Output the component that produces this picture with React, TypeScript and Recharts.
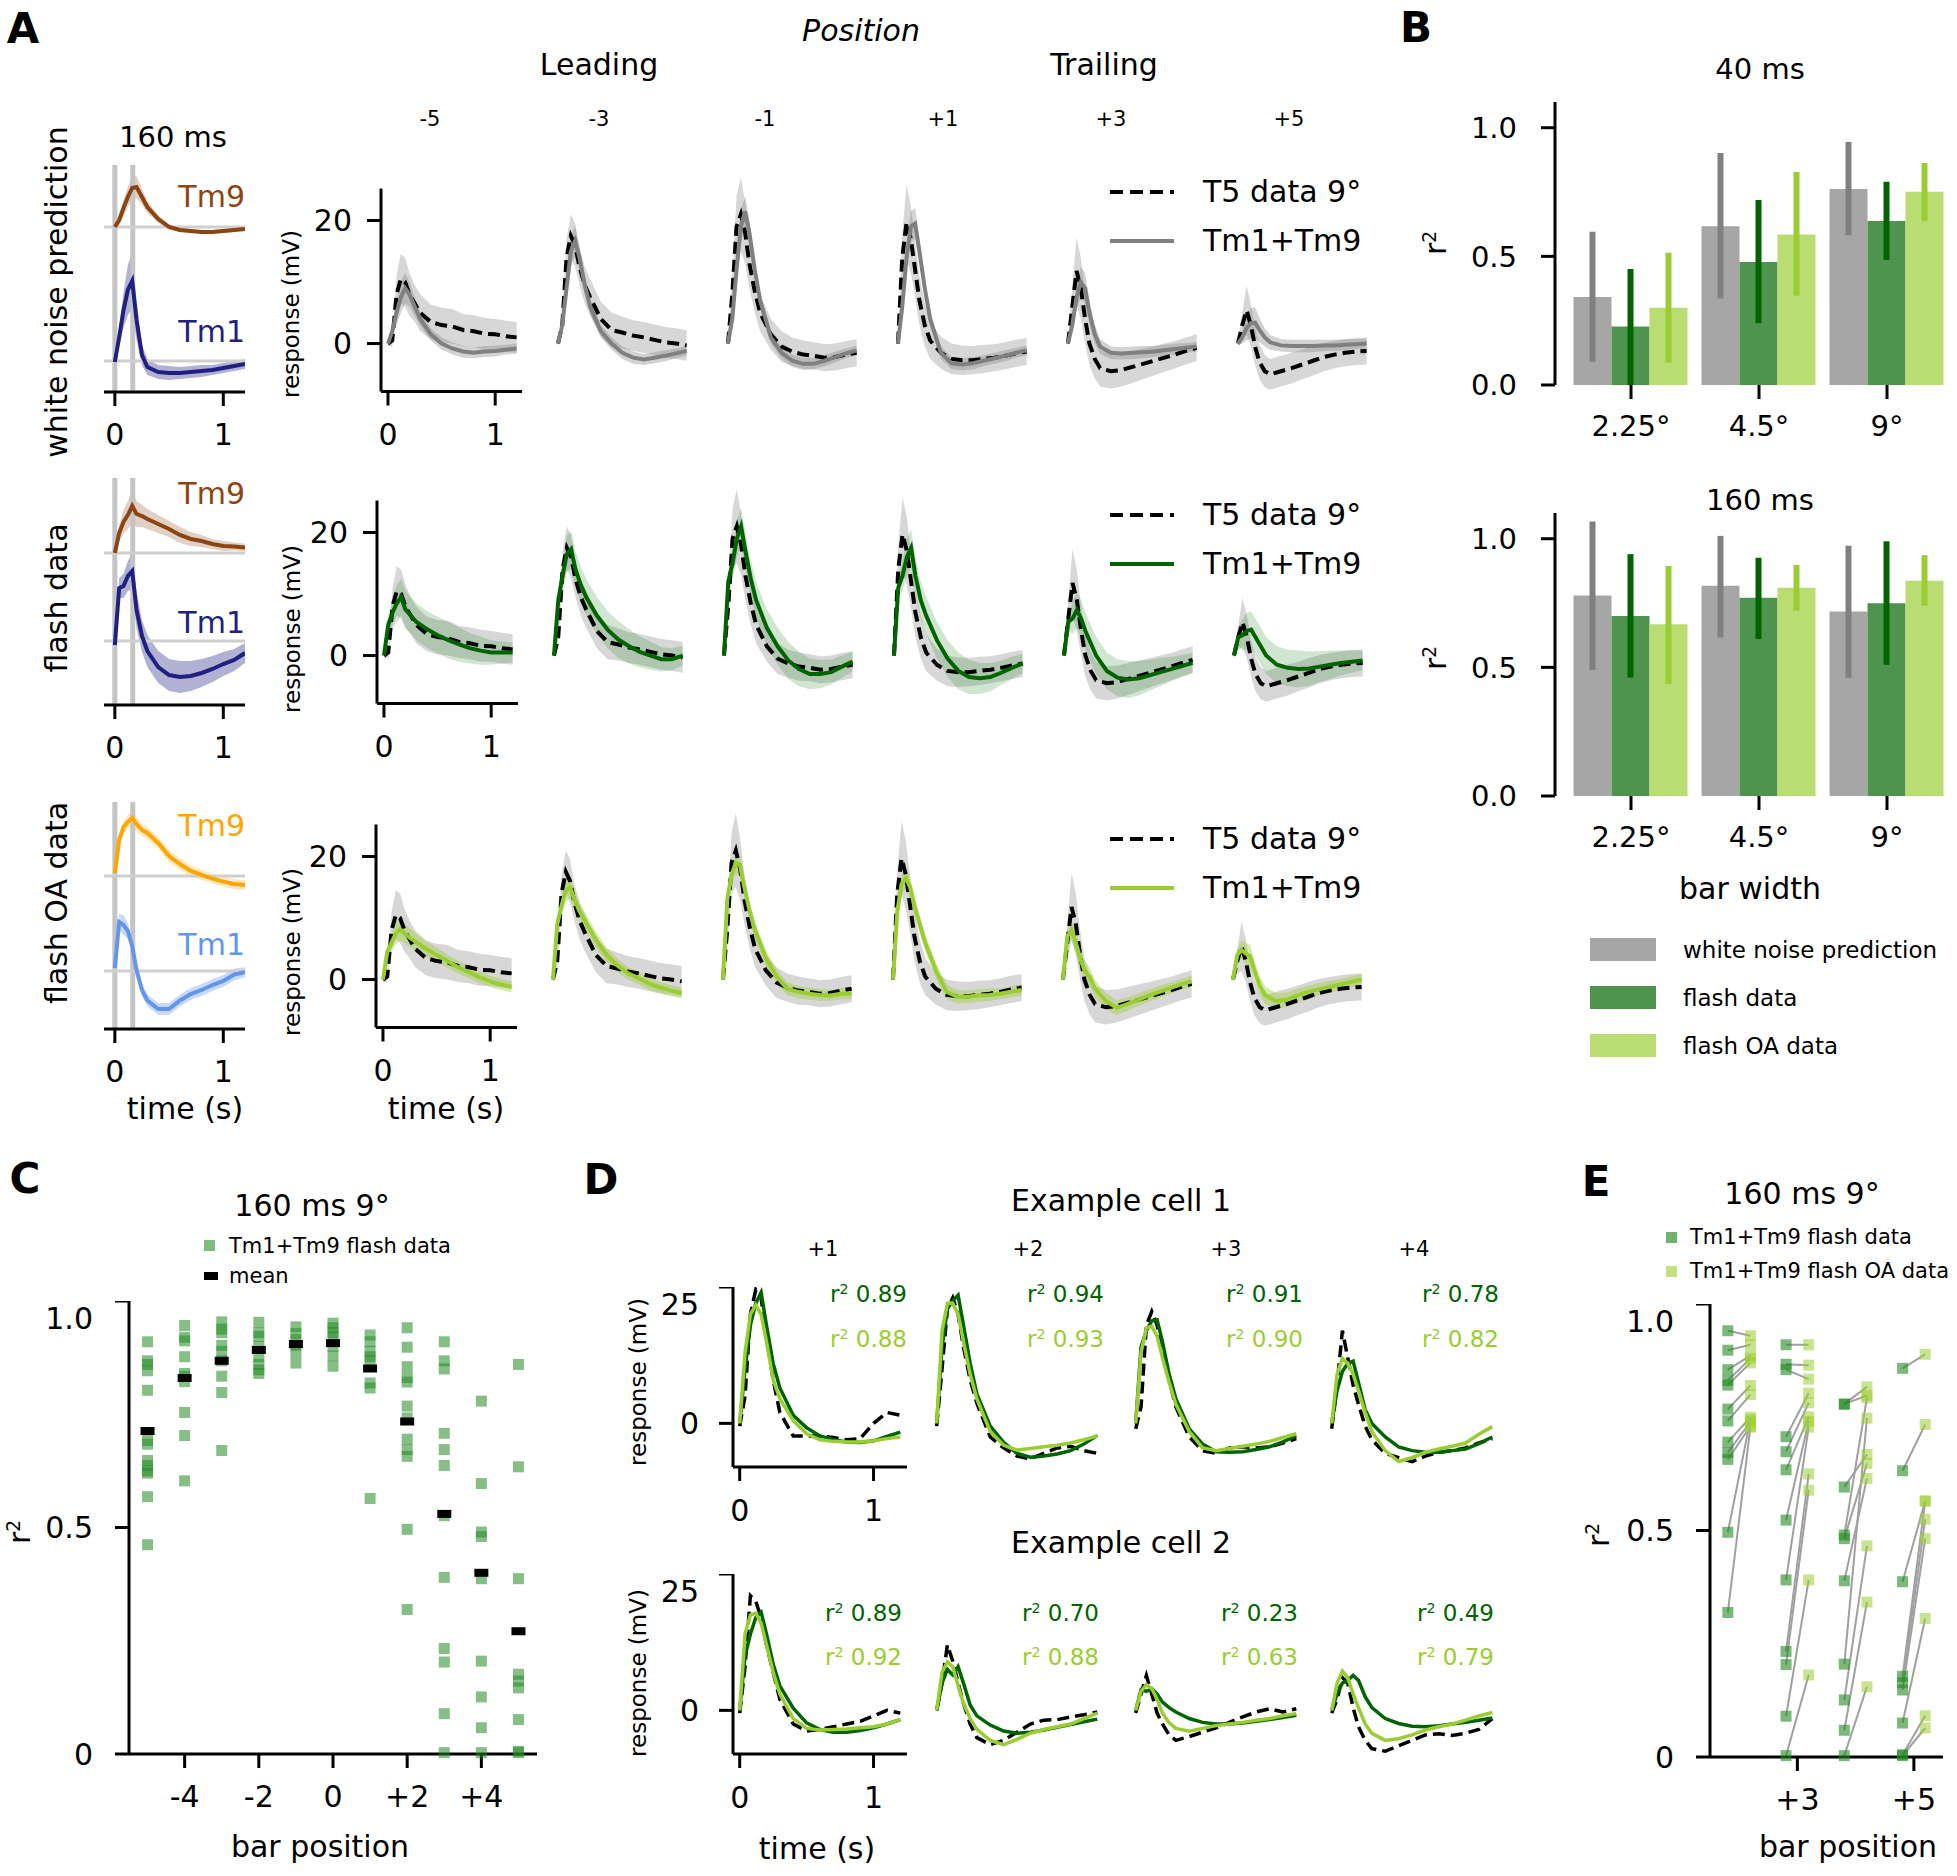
import React from "react";
import {
  ComposedChart,
  Line,
  Area,
  XAxis,
  YAxis,
  ReferenceLine,
  BarChart,
  Bar,
  ErrorBar,
  ScatterChart,
  Scatter,
} from "recharts";

const FONT = "'DejaVu Sans', Verdana, sans-serif";

// sample times (s), shared by every trace
const TIME = [0, 0.04, 0.08, 0.12, 0.16, 0.2, 0.25, 0.3, 0.4, 0.5, 0.6, 0.7, 0.8, 0.9, 1.0, 1.1, 1.2];

// ---------- A: Tm9 / Tm1 filters (a.u., relative to own baseline) ----------
const tm9White = [0, 7, 19, 30, 39, 40, 30, 20, 8, 0, -3, -4, -5, -5, -4, -3, -2];
const tm9WhiteSd = [2, 5, 8, 10, 12, 11, 8, 6, 4, 3, 2, 2, 2, 2, 2, 2, 2];
const tm1White = [-1, 24, 51, 71, 80, 41, 6, -6, -11, -12, -12, -11, -10, -9, -7, -5, -3];
const tm1WhiteSd = [3, 10, 18, 25, 28, 20, 10, 8, 7, 7, 6, 6, 6, 5, 5, 5, 5];
const tm9Flash = [0, 20, 31, 38, 47, 39, 37, 34, 29, 24, 18, 14, 12, 9, 7, 6.5, 5.6];
const tm9FlashSd = [2, 8, 12, 14, 17, 13, 11, 10, 9, 8, 8, 7, 6, 5, 5, 4, 4];
const tm1Flash = [-4, 53, 55, 65, 70, 31, 5, -10, -26, -34, -36, -35, -32, -28, -23, -19, -12];
const tm1FlashSd = [3, 10, 12, 15, 18, 18, 16, 16, 16, 16, 16, 15, 14, 13, 12, 11, 10];
const tm9Oa = [3, 36, 49, 54, 58, 52, 46, 43, 33, 20, 12, 5, 1, -2.6, -5.6, -8, -9];
const tm9OaSd = [2, 5, 6, 7, 8, 7, 6, 6, 6, 6, 6, 6, 5, 5, 5, 5, 5];
const tm1Oa = [3, 49, 46, 40, 25, 1, -19, -29.5, -38, -38, -29.5, -23, -19, -14, -10, -3.5, -1.3];
const tm1OaSd = [2, 8, 10, 8, 6, 6, 6, 6, 6, 6, 6, 6, 6, 6, 6, 6, 5];

// ---------- A: T5 data 9° (mV) per bar position ----------
const POSITIONS = ["-5", "-3", "-1", "+1", "+3", "+5"];
const t5M5 = [0, 0.5, 8, 10.5, 10, 8, 6.5, 5, 3.5, 3, 2.8, 2.2, 2, 1.6, 1.5, 1.2, 1.0];
const t5M3 = [0, 3, 14, 17.5, 16, 12.5, 9.5, 7.5, 4, 2.2, 1.8, 1.3, 1, 0.6, 0.2, 0, -0.3];
const t5M1 = [0, 8, 19, 21, 18, 13, 8.5, 5, 1.5, -0.5, -1.3, -1.8, -2, -2.3, -2.2, -1.8, -1.5];
const t5P1 = [0, 14, 19.7, 17, 12, 7, 3, 0.5, -1.5, -2.5, -2.7, -2.7, -2.5, -2.3, -2, -1.6, -1.3];
const t5P3 = [0, 6, 11.8, 9, 4, 0, -2.5, -4, -4.5, -4.3, -3.8, -3.3, -2.8, -2.3, -1.8, -1.2, -0.7];
const t5P5 = [0, 3, 5.4, 3, -0.5, -3, -4.5, -5, -4.5, -4, -3.4, -2.8, -2.2, -1.8, -1.5, -1.3, -1.2];
const t5SdM5 = [0.5, 1, 3, 4, 4, 3.5, 3, 3, 2.8, 2.8, 2.8, 2.6, 2.6, 2.6, 2.5, 2.5, 2.5];
const t5SdM3 = [0.5, 1.5, 3, 3.5, 3.5, 3, 3, 3, 2.8, 2.8, 2.6, 2.5, 2.5, 2.5, 2.5, 2.5, 2.5];
const t5SdM1 = [0.5, 3, 5, 6, 5, 4, 3.5, 3, 2.5, 2.5, 2.3, 2.3, 2.2, 2.2, 2.2, 2.2, 2.2];
const t5SdP1 = [0.5, 4, 6, 5.5, 4.5, 4, 3.5, 3, 2.6, 2.5, 2.4, 2.3, 2.3, 2.2, 2.2, 2.2, 2.2];
const t5SdP3 = [0.5, 3, 5.5, 5, 4, 3.5, 3.2, 3, 2.8, 2.7, 2.6, 2.5, 2.4, 2.3, 2.2, 2.2, 2.2];
const t5SdP5 = [0.5, 2, 4, 3.5, 3, 2.8, 2.6, 2.5, 2.5, 2.5, 2.4, 2.4, 2.3, 2.2, 2.2, 2.2, 2.2];

// ---------- A: Tm1+Tm9 model predictions (mV) ----------
const whiteM5 = [0, 2, 5, 7.5, 9, 8, 6, 4, 1.5, 0, -0.8, -1.3, -1.5, -1.3, -1.2, -1.0, -0.8];
const whiteM3 = [0, 3, 9, 15, 16.7, 14, 9.5, 6, 2, 0, -1.5, -2.3, -2.6, -2.3, -2, -1.6, -1.2];
const whiteM1 = [0, 4, 12, 19, 21.5, 18, 12, 7, 1, -1.5, -2.8, -3.3, -3.3, -2.8, -2.2, -1.6, -1.1];
const whiteP1 = [0, 6, 14, 19, 19.5, 15, 9, 4, -1.5, -3.2, -3.4, -3.2, -2.8, -2.4, -2, -1.5, -1.1];
const whiteP3 = [0, 3, 7.5, 10, 9, 5, 1.5, -0.5, -1.5, -1.6, -1.5, -1.4, -1.3, -1.1, -0.9, -0.7, -0.5];
const whiteP5 = [0, 1, 2.5, 3.3, 3.4, 2.2, 1, 0.2, -0.3, -0.4, -0.4, -0.4, -0.3, -0.3, -0.2, -0.1, 0];
const flashM5 = [0, 5, 7, 8.5, 9.5, 7.5, 6.5, 5.5, 4.3, 3.3, 2.5, 1.8, 1.2, 0.8, 0.5, 0.5, 0.5];
const flashM3 = [0, 9, 13, 16.5, 17.3, 14, 11.5, 9.5, 6.5, 4.2, 2.6, 1.5, 0.6, 0, -0.6, -0.6, 0];
const flashM1 = [0, 12, 15, 19, 21, 17, 12.5, 9, 4.5, 1.5, -0.8, -2.2, -3, -3, -2.7, -1.8, -1];
const flashP1 = [0, 11, 13, 16, 17.5, 13, 9, 6.5, 2.5, -0.5, -2.5, -3.5, -3.7, -3.5, -2.8, -2, -1.3];
const flashP3 = [0, 5.5, 6, 7.4, 6, 4, 2, 0, -2.5, -3.6, -3.9, -3.7, -3.2, -2.7, -2.2, -1.7, -1.2];
const flashP5 = [0, 3, 3.3, 4, 4.2, 3, 1.5, 0, -1.5, -2, -2.2, -2.1, -1.8, -1.5, -1.2, -1, -0.8];
const oaM5 = [0, 4.5, 6, 7.5, 8.2, 7.5, 6.8, 6.2, 5, 4, 3, 2, 1.2, 0.4, -0.3, -0.8, -1.2];
const oaM3 = [0, 9, 12, 14.5, 15, 13, 11, 9.5, 6.5, 4, 2.3, 1, 0.2, -0.7, -1.3, -1.8, -2.2];
const oaM1 = [0, 13, 17, 19, 18.5, 15, 11, 8, 3.5, 0.5, -1.5, -2, -2.3, -2.5, -2.6, -2.3, -2.3];
const oaP1 = [0, 11, 15.5, 16.5, 15, 12, 9, 6, 1.5, -2, -2.8, -2.8, -2.6, -2.5, -2.3, -2, -1.7];
const oaP3 = [0, 7, 8, 6, 3.5, 1.5, 0.4, -1.5, -3.5, -4.6, -4, -3.3, -2.6, -2, -1.4, -0.8, -0.3];
const oaP5 = [0, 4, 4.8, 4.2, 3.8, 1.5, -1, -2.5, -3.5, -3.3, -2.6, -2, -1.6, -1.2, -0.8, -0.4, 0];
const sdWhite = [0.3, 1, 2, 2.5, 2.5, 2, 1.5, 1.2, 1, 1, 1, 1, 0.9, 0.9, 0.9, 0.8, 0.8];
const sdFlash = [0.3, 1.5, 2.5, 3, 3, 3, 3, 3, 3, 3, 3, 2.8, 2.5, 2.3, 2, 1.8, 1.6];
const sdOa = [0.3, 1, 1.5, 1.8, 1.8, 1.6, 1.5, 1.4, 1.3, 1.2, 1.1, 1, 1, 1, 0.9, 0.9, 0.9];

// ---------- B: r² per bar width ----------
const WIDTHS = ["2.25°", "4.5°", "9°"];
const b40White = [0.342, 0.617, 0.762];
const b40WhiteLo = [0.09, 0.336, 0.582];
const b40WhiteHi = [0.596, 0.902, 0.945];
const b40Flash = [0.227, 0.478, 0.637];
const b40FlashLo = [0.0, 0.24, 0.486];
const b40FlashHi = [0.451, 0.719, 0.79];
const b40Oa = [0.3, 0.585, 0.751];
const b40OaLo = [0.087, 0.347, 0.637];
const b40OaHi = [0.514, 0.828, 0.863];
const b160White = [0.779, 0.817, 0.717];
const b160WhiteLo = [0.49, 0.616, 0.46];
const b160WhiteHi = [1.067, 1.011, 0.973];
const b160Flash = [0.7, 0.771, 0.749];
const b160FlashLo = [0.46, 0.61, 0.51];
const b160FlashHi = [0.94, 0.926, 0.99];
const b160Oa = [0.668, 0.809, 0.837];
const b160OaLo = [0.436, 0.72, 0.74];
const b160OaHi = [0.894, 0.898, 0.936];

// ---------- C: r² of Tm1+Tm9 flash data per bar position ----------
const C_POS = [-5, -4, -3, -2, -1, 0, 1, 2, 3, 4, 5];
const cM5 = [0.91, 0.868, 0.86, 0.846, 0.803, 0.692, 0.684, 0.648, 0.637, 0.625, 0.62, 0.568, 0.462];
const cM4 = [0.946, 0.92, 0.912, 0.877, 0.84, 0.834, 0.822, 0.754, 0.703, 0.603];
const cM3 = [0.954, 0.938, 0.93, 0.902, 0.889, 0.868, 0.834, 0.798, 0.67];
const cM2 = [0.953, 0.93, 0.922, 0.9, 0.877, 0.86, 0.848, 0.84];
const cM1 = [0.943, 0.928, 0.915, 0.902, 0.887, 0.863];
const c0 = [0.951, 0.941, 0.93, 0.92, 0.9, 0.879, 0.856];
const cP1 = [0.925, 0.91, 0.889, 0.877, 0.868, 0.819, 0.808, 0.564];
const cP2 = [0.941, 0.898, 0.855, 0.831, 0.821, 0.768, 0.742, 0.695, 0.672, 0.657, 0.496, 0.319];
const cP3 = [0.91, 0.868, 0.85, 0.708, 0.672, 0.637, 0.526, 0.39, 0.233, 0.203, 0.089, 0.003];
const cP4 = [0.779, 0.597, 0.49, 0.48, 0.387, 0.205, 0.126, 0.058, 0.003];
const cP5 = [0.86, 0.634, 0.387, 0.176, 0.161, 0.146, 0.076, 0.006, 0.003];
const cMean = [0.713, 0.83, 0.868, 0.892, 0.905, 0.907, 0.851, 0.734, 0.53, 0.4, 0.271];

// ---------- D: example cells (mV) ----------
const D_POS = ["+1", "+2", "+3", "+4"];
const c1T5P1 = [-0.5, 5, 20, 24.5, 23, 16, 8, 2, -2.3, -2.3, -2.3, -2.6, -3, -2.8, 0, 2, 1.5];
const c1T5P2 = [-0.5, 10, 21, 23, 20, 14, 8, 3.7, -2.5, -4.5, -6, -6.5, -5.5, -4.5, -4.2, -5, -5.5];
const c1T5P3 = [-1, 3, 18, 20.5, 18, 13, 8, 3, -2.5, -5, -5.5, -4.5, -4.3, -4.5, -4.3, -3.6, -2.8];
const c1T5P4 = [-1, 7, 17, 12, 7, 3.5, -0.5, -3, -5.5, -6.3, -7, -6, -5.3, -5, -4.5, -3.6, -2.8];
const c1FlP1 = [0, 10, 18, 22, 24, 18, 11, 6.5, 1.5, -0.8, -2.3, -3, -3.4, -3.5, -3.2, -2.4, -1.6];
const c1FlP2 = [0, 14, 21, 22.5, 23.5, 18, 11, 5.4, -0.5, -3.5, -5.5, -6.2, -6, -5.6, -5, -3.8, -2.2];
const c1FlP3 = [0, 14, 17, 18.8, 19, 15, 9, 4.5, -1, -3.8, -5.2, -5.3, -5.2, -4.8, -4.3, -3.4, -2.3];
const c1FlP4 = [0, 6, 9.5, 11, 11.4, 7.5, 2.5, 0, -2.5, -4.3, -5, -5.3, -5.3, -5, -4.7, -3.7, -2.5];
const c1OaP1 = [0, 13, 20, 21.7, 20, 15, 8, 4.5, 0.5, -1.9, -3, -3.3, -3.4, -3.4, -3.2, -2.8, -2.5];
const c1OaP2 = [0, 17, 22, 22, 20, 15, 9, 4.5, -1.5, -4, -4.9, -4.6, -4.3, -4, -3.6, -3, -2.3];
const c1OaP3 = [0, 13, 17.5, 17.8, 16, 12, 7.5, 3.5, -1.5, -4.5, -5, -4.6, -4.2, -3.8, -3.3, -2.6, -1.9];
const c1OaP4 = [0, 9, 11.9, 11, 9, 6, 2, -1.5, -5, -7, -6.3, -5.3, -4.7, -4.2, -3.6, -2, -0.6];
const c2T5P1 = [-0.5, 8, 21, 20, 17, 12, 7, 2, -2.5, -3.8, -3.5, -3, -2.5, -2, -1, 0, -0.5];
const c2T5P2 = [0, 5, 12, 9, 5, 1.3, -2.5, -5, -6.3, -5.5, -4, -2.5, -1.8, -1.7, -1.2, -0.8, -0.3];
const c2T5P3 = [-0.5, 3, 6.4, 3, -0.5, -2.5, -4.5, -5.5, -4.8, -4, -3.2, -2.2, -1.2, -0.3, 0.3, -0.3, 0.3];
const c2T5P4 = [-0.5, 2, 6, 5, 0.5, -3, -5.5, -7, -7.5, -6.5, -5.5, -4.5, -4.3, -4.6, -4.2, -3.5, -1.5];
const c2FlP1 = [0, 10, 14, 17, 18, 14, 8.5, 4.5, 0.4, -2.3, -3.5, -4, -4, -3.7, -3.2, -2.5, -1.7];
const c2FlP2 = [0, 5, 7.5, 6.5, 8, 5, 1, -1, -2.7, -3.8, -4.2, -4, -3.6, -3.1, -2.6, -2.1, -1.6];
const c2FlP3 = [0, 3.8, 3.5, 4, 3, 1.5, 0.5, -0.3, -1.5, -2.2, -2.5, -2.5, -2.3, -2, -1.7, -1.3, -0.9];
const c2FlP4 = [0, 3, 5, 5.5, 6.4, 5.5, 2.5, 0.5, -1.5, -2.4, -2.9, -3, -2.8, -2.5, -2.2, -1.8, -1.4];
const c2OaP1 = [0, 14, 17.5, 17.8, 16, 12, 7, 3, -1.5, -3.3, -3.6, -3.5, -3.4, -3.2, -3, -2.5, -1.7];
const c2OaP2 = [0, 7, 8.9, 8, 4.5, 1.3, -1.5, -3.5, -5.5, -6.3, -5.3, -4.2, -3.5, -3, -2.5, -1.5, -0.5];
const c2OaP3 = [0, 3.5, 4.7, 4, 2, -0.5, -2.3, -3.3, -3.8, -3.3, -2.8, -2.5, -2.2, -1.8, -1.5, -1, -0.6];
const c2OaP4 = [0, 5, 7.2, 6, 3, 0.5, -2.5, -4.2, -5.5, -5.2, -4.5, -3.6, -3, -2.5, -1.8, -1, -0.4];
const c1Fit = ["0.89", "0.94", "0.91", "0.78"];
const c1FitOa = ["0.88", "0.93", "0.90", "0.82"];
const c2Fit = ["0.89", "0.70", "0.23", "0.49"];
const c2FitOa = ["0.92", "0.88", "0.63", "0.79"];

// ---------- E: paired r² (flash vs flash OA) ----------
const E_POS = [2, 3, 4, 5];
const eP2Flash = [0.941, 0.898, 0.855, 0.831, 0.821, 0.768, 0.742, 0.695, 0.672, 0.657, 0.496, 0.319];
const eP2Oa = [0.93, 0.91, 0.886, 0.88, 0.87, 0.82, 0.8, 0.75, 0.74, 0.73, 0.745, 0.728];
const eP3Flash = [0.91, 0.867, 0.855, 0.707, 0.674, 0.634, 0.523, 0.391, 0.233, 0.204, 0.09, 0.003];
const eP3Oa = [0.91, 0.865, 0.834, 0.803, 0.782, 0.751, 0.741, 0.728, 0.625, 0.589, 0.391, 0.181];
const eP4Flash = [0.779, 0.779, 0.596, 0.49, 0.482, 0.389, 0.205, 0.126, 0.059, 0.003];
const eP4Oa = [0.817, 0.798, 0.668, 0.793, 0.648, 0.615, 0.748, 0.466, 0.342, 0.155];
const eP5Flash = [0.858, 0.632, 0.387, 0.178, 0.164, 0.148, 0.075, 0.005, 0.003];
const eP5Oa = [0.889, 0.734, 0.565, 0.565, 0.525, 0.482, 0.306, 0.091, 0.064];

// ---------- styling ----------
const GREY_BAR = "#a6a6a6";
const GREEN_BAR = "#4e944e";
const LIGHT_BAR = "#b9dc73";
const DARK_GREEN = "#006400";
const YELLOW_GREEN = "#9acd32";
const tickFont = { fill: "#000", fontSize: 30, fontFamily: FONT };
const spine = { stroke: "#000", strokeWidth: 3 };
const zero = { top: 0, right: 0, bottom: 0, left: 0 };

function Txt(props: any) {
  const { x, y, size = 30, anchor = "middle", rot = 0, color = "#000", bold, italic, children } = props;
  const tx = anchor === "middle" ? "-50%" : anchor === "end" ? "-100%" : "0%";
  return (
    <div
      style={{
        position: "absolute",
        left: x,
        top: y,
        transform: `translate(${tx}, -50%) rotate(${rot}deg)`,
        fontFamily: FONT,
        fontSize: size,
        lineHeight: 1,
        whiteSpace: "nowrap",
        color,
        fontWeight: bold ? 700 : 400,
        fontStyle: italic ? "italic" : "normal",
      }}
    >
      {children}
    </div>
  );
}

const R2 = () => (
  <span>
    r<span style={{ fontSize: "0.62em", verticalAlign: "0.55em" }}>2</span>
  </span>
);

// ---------- A: filter plot ----------
function FilterPlot(props: any) {
  const { axisY, tm9, tm9Sd, tm1, tm1Sd, off9, off1, c9, c1 } = props;
  const rows = TIME.map((t, i) => ({
    t,
    a: tm9[i] + off9,
    aBand: [tm9[i] - tm9Sd[i] + off9, tm9[i] + tm9Sd[i] + off9],
    b: tm1[i] + off1,
    bBand: [tm1[i] - tm1Sd[i] + off1, tm1[i] + tm1Sd[i] + off1],
  }));
  return (
    <div style={{ position: "absolute", left: 104, top: axisY - 240 }}>
      <ComposedChart width={141} height={310} data={rows} margin={zero}>
        <XAxis dataKey="t" type="number" domain={[-0.1, 1.2]} ticks={[0, 1]} height={70}
          tickSize={14} tickMargin={18} tick={tickFont} axisLine={spine} tickLine={spine} />
        <YAxis hide type="number" domain={[0, 240]} allowDataOverflow />
        <ReferenceLine segment={[{ x: 0, y: 0 }, { x: 0, y: 227 }]} stroke="#c4c4c4" strokeWidth={5} ifOverflow="visible" />
        <ReferenceLine segment={[{ x: 0.165, y: 0 }, { x: 0.165, y: 227 }]} stroke="#c4c4c4" strokeWidth={5} ifOverflow="visible" />
        <ReferenceLine segment={[{ x: -0.1, y: off9 }, { x: 1.2, y: off9 }]} stroke="#cfcfcf" strokeWidth={3} ifOverflow="visible" />
        <ReferenceLine segment={[{ x: -0.1, y: off1 }, { x: 1.2, y: off1 }]} stroke="#cfcfcf" strokeWidth={3} ifOverflow="visible" />
        <Area dataKey="aBand" stroke="none" fill={c9} fillOpacity={0.25} isAnimationActive={false} />
        <Line dataKey="a" stroke={c9} strokeWidth={4} dot={false} isAnimationActive={false} />
        <Area dataKey="bBand" stroke="none" fill={c1} fillOpacity={0.35} isAnimationActive={false} />
        <Line dataKey="b" stroke={c1} strokeWidth={4} dot={false} isAnimationActive={false} />
      </ComposedChart>
    </div>
  );
}

// ---------- A: response plot ----------
const A_YMIN = -7.8;
const A_YTOP = 30;
const A_PX = 203 / 33;
function RespPlot(props: any) {
  const { left, top, t5, t5Sd, model, modelSd, color, bandFill, bandOpacity, axes } = props;
  const rows = TIME.map((t, i) => ({
    t,
    d: t5[i],
    dBand: [t5[i] - t5Sd[i], t5[i] + t5Sd[i]],
    m: model[i],
    mBand: [model[i] - modelSd[i], model[i] + modelSd[i]],
  }));
  const plotH = (A_YTOP - A_YMIN) * A_PX;
  const extra = (A_YTOP - 25.2) * A_PX;
  const yW = axes ? 90 : 0;
  const xH = axes ? 70 : 0;
  return (
    <div style={{ position: "absolute", left: left - yW, top: top - extra }}>
      <ComposedChart width={141 + yW} height={plotH + xH} data={rows} margin={zero}>
        <XAxis dataKey="t" type="number" domain={[-0.065, 1.25]} ticks={[0, 1]} hide={!axes} height={xH}
          tickSize={14} tickMargin={18} tick={tickFont} axisLine={spine} tickLine={spine} />
        <YAxis type="number" domain={[A_YMIN, A_YTOP]} ticks={[0, 20]} hide={!axes} width={yW}
          tickSize={14} tickMargin={15} tick={tickFont} axisLine={false} tickLine={spine} allowDataOverflow />
        {axes && (
          <ReferenceLine segment={[{ x: -0.065, y: A_YMIN }, { x: -0.065, y: 25.2 }]} stroke="#000" strokeWidth={3} ifOverflow="visible" />
        )}
        <Area dataKey="dBand" stroke="none" fill="#d0d0d0" fillOpacity={0.85} isAnimationActive={false} />
        <Area dataKey="mBand" stroke="none" fill={bandFill} fillOpacity={bandOpacity} isAnimationActive={false} />
        <Line dataKey="d" stroke="#000" strokeWidth={4} strokeDasharray="12 6" dot={false} isAnimationActive={false} />
        <Line dataKey="m" stroke={color} strokeWidth={4} dot={false} isAnimationActive={false} />
      </ComposedChart>
    </div>
  );
}

// ---------- B: bar panel ----------
function BarPanel(props: any) {
  const { top, white, whiteLo, whiteHi, flash, flashLo, flashHi, oa, oaLo, oaHi } = props;
  const rows = WIDTHS.map((w, i) => ({
    w,
    wn: white[i],
    wnErr: [white[i] - whiteLo[i], whiteHi[i] - white[i]],
    fl: flash[i],
    flErr: [flash[i] - flashLo[i], flashHi[i] - flash[i]],
    oa: oa[i],
    oaErr: [oa[i] - oaLo[i], oaHi[i] - oa[i]],
  }));
  return (
    <div style={{ position: "absolute", left: 1555 - 90, top }}>
      <BarChart width={90 + 396} height={283 + 70} data={rows} margin={zero} barCategoryGap={6.5} barGap={0}>
        <XAxis dataKey="w" padding={{ left: 12, right: 0 }} height={70} axisLine={false}
          tickSize={14} tickMargin={16} tick={{ ...tickFont, fontSize: 29 }} tickLine={spine} />
        <YAxis type="number" domain={[0, 1.1]} ticks={[0, 0.5, 1]} width={90} allowDataOverflow
          tickFormatter={(v: number) => v.toFixed(1)} tickSize={14} tickMargin={24}
          tick={{ ...tickFont, fontSize: 29 }} axisLine={spine} tickLine={spine} />
        <Bar dataKey="wn" fill={GREY_BAR} isAnimationActive={false}>
          <ErrorBar dataKey="wnErr" width={0} stroke="#808080" strokeWidth={6} isAnimationActive={false} />
        </Bar>
        <Bar dataKey="fl" fill={GREEN_BAR} isAnimationActive={false}>
          <ErrorBar dataKey="flErr" width={0} stroke={DARK_GREEN} strokeWidth={6} isAnimationActive={false} />
        </Bar>
        <Bar dataKey="oa" fill={LIGHT_BAR} isAnimationActive={false}>
          <ErrorBar dataKey="oaErr" width={0} stroke={YELLOW_GREEN} strokeWidth={6} isAnimationActive={false} />
        </Bar>
      </BarChart>
    </div>
  );
}

// ---------- D: example cell plot ----------
function CellPlot(props: any) {
  const { left, top, t5, flash, oa, axes } = props;
  const rows = TIME.map((t, i) => ({ t, d: t5[i], f: flash[i], o: oa[i] }));
  const yW = axes ? 90 : 0;
  const xH = axes ? 70 : 0;
  return (
    <div style={{ position: "absolute", left: left - yW, top }}>
      <ComposedChart width={174 + yW} height={180 + xH} data={rows} margin={zero}>
        <XAxis dataKey="t" type="number" domain={[-0.05, 1.25]} ticks={[0, 1]} hide={!axes} height={xH}
          tickSize={14} tickMargin={19} tick={tickFont} axisLine={spine} tickLine={spine} />
        <YAxis type="number" domain={[-8, 25]} ticks={[0, 25]} hide={!axes} width={yW} allowDataOverflow
          tickSize={14} tickMargin={20} tick={tickFont} axisLine={spine} tickLine={spine} />
        <Line dataKey="d" stroke="#000" strokeWidth={3.5} strokeDasharray="12 6" dot={false} isAnimationActive={false} />
        <Line dataKey="f" stroke={DARK_GREEN} strokeWidth={3.5} dot={false} isAnimationActive={false} />
        <Line dataKey="o" stroke={YELLOW_GREEN} strokeWidth={3.5} dot={false} isAnimationActive={false} />
      </ComposedChart>
    </div>
  );
}

const square = (fill: string, op: number, s: number) => (p: any) => (
  <rect x={p.cx - s / 2} y={p.cy - s / 2} width={s} height={s} fill={fill} fillOpacity={op} />
);
const meanMark = (p: any) => <rect x={p.cx - 7} y={p.cy - 4} width={14} height={8} fill="#000" />;
const fmtPos = (v: number) => (v > 0 ? `+${v}` : `${v}`);
const fmtR = (v: number) => (v === 0 ? "0" : v.toFixed(1));

function LegendLine({ x, y, dashed, color }: any) {
  return (
    <svg style={{ position: "absolute", left: x, top: y - 6 }} width={64} height={12}>
      <line x1={0} y1={6} x2={64} y2={6} stroke={color} strokeWidth={4} strokeDasharray={dashed ? "13 7" : undefined} />
    </svg>
  );
}

export default function App() {
  const t5 = [t5M5, t5M3, t5M1, t5P1, t5P3, t5P5];
  const t5Sd = [t5SdM5, t5SdM3, t5SdM1, t5SdP1, t5SdP3, t5SdP5];
  const aRows = [
    { axisX: 381, top: 188.2, models: [whiteM5, whiteM3, whiteM1, whiteP1, whiteP3, whiteP5], sd: sdWhite, color: "#808080", band: "#808080", op: 0.35, legY: 192 },
    { axisX: 377, top: 500.7, models: [flashM5, flashM3, flashM1, flashP1, flashP3, flashP5], sd: sdFlash, color: DARK_GREEN, band: "#2e8b2e", op: 0.22, legY: 515 },
    { axisX: 376, top: 824.3, models: [oaM5, oaM3, oaM1, oaP1, oaP3, oaP5], sd: sdOa, color: YELLOW_GREEN, band: YELLOW_GREEN, op: 0.4, legY: 839 },
  ];
  const posLabelX = [430, 599, 765, 943, 1111, 1289];

  const cGroups = [cM5, cM4, cM3, cM2, cM1, c0, cP1, cP2, cP3, cP4, cP5];
  const cPts = cGroups.flatMap((g, i) => g.map((y) => ({ x: C_POS[i], y })));
  const cMeanPts = cMean.map((y, i) => ({ x: C_POS[i], y }));

  const eFlash = [eP2Flash, eP3Flash, eP4Flash, eP5Flash];
  const eOa = [eP2Oa, eP3Oa, eP4Oa, eP5Oa];
  const eFlashPts = eFlash.flatMap((g, i) => g.map((y) => ({ x: E_POS[i] - 0.194, y })));
  const eOaPts = eOa.flatMap((g, i) => g.map((y) => ({ x: E_POS[i] + 0.194, y })));
  const ePairs = eFlash.flatMap((g, i) => g.map((y, j) => ({ x: E_POS[i], a: y, b: eOa[i][j] })));

  const dLeft = [733, 930, 1129, 1325];
  const c1 = { t5: [c1T5P1, c1T5P2, c1T5P3, c1T5P4], fl: [c1FlP1, c1FlP2, c1FlP3, c1FlP4], oa: [c1OaP1, c1OaP2, c1OaP3, c1OaP4] };
  const c2 = { t5: [c2T5P1, c2T5P2, c2T5P3, c2T5P4], fl: [c2FlP1, c2FlP2, c2FlP3, c2FlP4], oa: [c2OaP1, c2OaP2, c2OaP3, c2OaP4] };

  return (
    <div style={{ position: "absolute", left: 0, top: 0, width: 1957, height: 1876, background: "#fff", overflow: "hidden", fontFamily: FONT }}>
      {/* ---------- A ---------- */}
      <Txt x={23} y={29} size={42} bold>A</Txt>
      <Txt x={861} y={31} italic>Position</Txt>
      <Txt x={599} y={65}>Leading</Txt>
      <Txt x={1104} y={65}>Trailing</Txt>
      {POSITIONS.map((p, i) => (
        <Txt key={p} x={posLabelX[i]} y={119} size={21}>{p}</Txt>
      ))}
      <Txt x={173} y={137} size={29}>160 ms</Txt>
      <Txt x={57} y={292} rot={-90}>white noise prediction</Txt>
      <Txt x={57} y={598} rot={-90}>flash data</Txt>
      <Txt x={57} y={903} rot={-90}>flash OA data</Txt>

      <FilterPlot axisY={392} tm9={tm9White} tm9Sd={tm9WhiteSd} tm1={tm1White} tm1Sd={tm1WhiteSd} off9={165} off1={31} c9="#8b4513" c1="#202080" />
      <FilterPlot axisY={705} tm9={tm9Flash} tm9Sd={tm9FlashSd} tm1={tm1Flash} tm1Sd={tm1FlashSd} off9={152} off1={64} c9="#8b4513" c1="#202080" />
      <FilterPlot axisY={1029} tm9={tm9Oa} tm9Sd={tm9OaSd} tm1={tm1Oa} tm1Sd={tm1OaSd} off9={153} off1={58} c9="#ffa500" c1="#6495ed" />
      <Txt x={245} y={197} anchor="end" color="#8b4513">Tm9</Txt>
      <Txt x={245} y={332} anchor="end" color="#202080">Tm1</Txt>
      <Txt x={245} y={494} anchor="end" color="#8b4513">Tm9</Txt>
      <Txt x={245} y={623} anchor="end" color="#202080">Tm1</Txt>
      <Txt x={245} y={826} anchor="end" color="#ffa500">Tm9</Txt>
      <Txt x={245} y={945} anchor="end" color="#6495ed">Tm1</Txt>
      <Txt x={185} y={1109}>time (s)</Txt>

      {aRows.map((r, ri) => (
        <React.Fragment key={ri}>
          {POSITIONS.map((p, k) => (
            <RespPlot key={p} left={r.axisX + 170 * k} top={r.top} t5={t5[k]} t5Sd={t5Sd[k]}
              model={r.models[k]} modelSd={r.sd} color={r.color} bandFill={r.band} bandOpacity={r.op} axes={k === 0} />
          ))}
          <LegendLine x={1110} y={r.legY} dashed color="#000" />
          <Txt x={1203} y={r.legY} anchor="start">T5 data 9°</Txt>
          <LegendLine x={1110} y={r.legY + 49} color={r.color} />
          <Txt x={1203} y={r.legY + 49} anchor="start">Tm1+Tm9</Txt>
        </React.Fragment>
      ))}
      <Txt x={291} y={314} size={23} rot={-90}>response (mV)</Txt>
      <Txt x={292} y={629} size={23} rot={-90}>response (mV)</Txt>
      <Txt x={292} y={952} size={23} rot={-90}>response (mV)</Txt>
      <Txt x={446} y={1109}>time (s)</Txt>

      {/* ---------- B ---------- */}
      <Txt x={1416} y={28} size={42} bold>B</Txt>
      <Txt x={1760} y={69} size={29}>40 ms</Txt>
      <Txt x={1760} y={500} size={29}>160 ms</Txt>
      <BarPanel top={102} white={b40White} whiteLo={b40WhiteLo} whiteHi={b40WhiteHi}
        flash={b40Flash} flashLo={b40FlashLo} flashHi={b40FlashHi} oa={b40Oa} oaLo={b40OaLo} oaHi={b40OaHi} />
      <BarPanel top={513} white={b160White} whiteLo={b160WhiteLo} whiteHi={b160WhiteHi}
        flash={b160Flash} flashLo={b160FlashLo} flashHi={b160FlashHi} oa={b160Oa} oaLo={b160OaLo} oaHi={b160OaHi} />
      <Txt x={1436} y={243} rot={-90}><R2 /></Txt>
      <Txt x={1436} y={658} rot={-90}><R2 /></Txt>
      <Txt x={1750} y={889}>bar width</Txt>
      {[
        { c: GREY_BAR, t: "white noise prediction", y: 950 },
        { c: GREEN_BAR, t: "flash data", y: 998 },
        { c: LIGHT_BAR, t: "flash OA data", y: 1046 },
      ].map((e) => (
        <React.Fragment key={e.t}>
          <div style={{ position: "absolute", left: 1590, top: e.y - 12, width: 66, height: 23, background: e.c }} />
          <Txt x={1683} y={e.y} size={23} anchor="start">{e.t}</Txt>
        </React.Fragment>
      ))}

      {/* ---------- C ---------- */}
      <Txt x={25} y={1179} size={42} bold>C</Txt>
      <Txt x={312} y={1206}>160 ms 9°</Txt>
      <div style={{ position: "absolute", left: 204, top: 1240, width: 11, height: 11, background: "#228b22", opacity: 0.58 }} />
      <Txt x={229} y={1246} size={21} anchor="start">Tm1+Tm9 flash data</Txt>
      <div style={{ position: "absolute", left: 204, top: 1272, width: 14, height: 8, background: "#000" }} />
      <Txt x={229} y={1276} size={21} anchor="start">mean</Txt>
      <div style={{ position: "absolute", left: 129.3 - 90, top: 1301 }}>
        <ScatterChart width={90 + 408} height={453 + 70} margin={zero}>
          <XAxis type="number" dataKey="x" domain={[-5.5, 5.5]} ticks={[-4, -2, 0, 2, 4]} tickFormatter={fmtPos}
            height={70} tickSize={14} tickMargin={18} tick={tickFont} axisLine={spine} tickLine={spine} />
          <YAxis type="number" dataKey="y" domain={[0, 1]} ticks={[0, 0.5, 1]} tickFormatter={fmtR} width={90}
            tickSize={14} tickMargin={22} tick={tickFont} axisLine={spine} tickLine={spine} />
          <Scatter data={cPts} shape={square("#228b22", 0.55, 11)} isAnimationActive={false} />
          <Scatter data={cMeanPts} shape={meanMark} isAnimationActive={false} />
        </ScatterChart>
      </div>
      <Txt x={20} y={1532} rot={-90}><R2 /></Txt>
      <Txt x={320} y={1847}>bar position</Txt>

      {/* ---------- D ---------- */}
      <Txt x={601} y={1180} size={42} bold>D</Txt>
      <Txt x={1121} y={1201}>Example cell 1</Txt>
      <Txt x={1121} y={1543}>Example cell 2</Txt>
      {D_POS.map((p, i) => (
        <Txt key={p} x={[823, 1028, 1226, 1414][i]} y={1249} size={21}>{p}</Txt>
      ))}
      {D_POS.map((p, i) => (
        <React.Fragment key={p}>
          <CellPlot left={dLeft[i]} top={1286.5} t5={c1.t5[i]} flash={c1.fl[i]} oa={c1.oa[i]} axes={i === 0} />
          <CellPlot left={dLeft[i]} top={1574} t5={c2.t5[i]} flash={c2.fl[i]} oa={c2.oa[i]} axes={i === 0} />
          <Txt x={dLeft[i] + 174} y={1294} size={23} anchor="end" color={DARK_GREEN}><R2 /> {c1Fit[i]}</Txt>
          <Txt x={dLeft[i] + 174} y={1339} size={23} anchor="end" color={YELLOW_GREEN}><R2 /> {c1FitOa[i]}</Txt>
          <Txt x={dLeft[i] + 169} y={1613} size={23} anchor="end" color={DARK_GREEN}><R2 /> {c2Fit[i]}</Txt>
          <Txt x={dLeft[i] + 169} y={1657} size={23} anchor="end" color={YELLOW_GREEN}><R2 /> {c2FitOa[i]}</Txt>
        </React.Fragment>
      ))}
      <Txt x={638} y={1382} size={23} rot={-90}>response (mV)</Txt>
      <Txt x={638} y={1673} size={23} rot={-90}>response (mV)</Txt>
      <Txt x={817} y={1849}>time (s)</Txt>

      {/* ---------- E ---------- */}
      <Txt x={1596} y={1182} size={42} bold>E</Txt>
      <Txt x={1802} y={1194}>160 ms 9°</Txt>
      <div style={{ position: "absolute", left: 1666, top: 1232, width: 11, height: 11, background: "#228b22", opacity: 0.65 }} />
      <Txt x={1690} y={1237} size={21} anchor="start">Tm1+Tm9 flash data</Txt>
      <div style={{ position: "absolute", left: 1666, top: 1266, width: 11, height: 11, background: YELLOW_GREEN, opacity: 0.6 }} />
      <Txt x={1690} y={1271} size={21} anchor="start">Tm1+Tm9 flash OA data</Txt>
      <div style={{ position: "absolute", left: 1710 - 90, top: 1304.3 }}>
        <ScatterChart width={90 + 233} height={453 + 70} margin={zero}>
          <XAxis type="number" dataKey="x" domain={[1.5, 5.5]} ticks={[3, 5]} tickFormatter={fmtPos}
            height={70} tickSize={14} tickMargin={18} tick={tickFont} axisLine={spine} tickLine={spine} />
          <YAxis type="number" dataKey="y" domain={[0, 1]} ticks={[0, 0.5, 1]} tickFormatter={fmtR} width={90}
            tickSize={14} tickMargin={22} tick={tickFont} axisLine={spine} tickLine={spine} />
          {ePairs.map((p, i) => (
            <ReferenceLine key={i} segment={[{ x: p.x - 0.194, y: p.a }, { x: p.x + 0.194, y: p.b }]}
              stroke="#a0a0a0" strokeWidth={2} ifOverflow="visible" />
          ))}
          <Scatter data={eFlashPts} shape={square("#228b22", 0.6, 11)} isAnimationActive={false} />
          <Scatter data={eOaPts} shape={square(YELLOW_GREEN, 0.55, 11)} isAnimationActive={false} />
        </ScatterChart>
      </div>
      <Txt x={1599} y={1535} rot={-90}><R2 /></Txt>
      <Txt x={1848} y={1847}>bar position</Txt>
    </div>
  );
}
